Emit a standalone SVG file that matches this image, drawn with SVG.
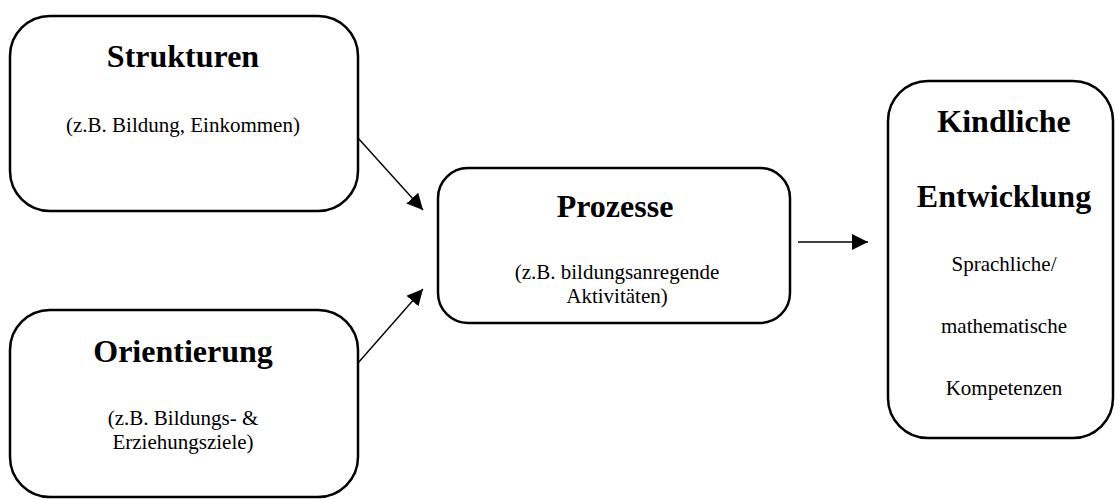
<svg xmlns="http://www.w3.org/2000/svg" width="1115" height="499" viewBox="0 0 1115 499">
<style>
.box{fill:#fff;stroke:#000;stroke-width:2.5}
.t{font-family:"Liberation Serif","Times New Roman",serif;font-weight:bold;font-size:32px;text-anchor:middle;fill:#000}
.s{font-family:"Liberation Serif","Times New Roman",serif;font-size:21px;text-anchor:middle;fill:#000}
.c{stroke:#000;stroke-width:1.4;fill:none}
</style>
<defs>
<marker id="ah" viewBox="0 0 16 16" refX="16" refY="8" markerWidth="16" markerHeight="16" markerUnits="userSpaceOnUse" orient="auto">
<path d="M0,0 L16,8 L0,16 Z" fill="#000"/>
</marker>
</defs>
<rect width="1115" height="499" fill="#fff"/>
<g id="strukturen">
<rect class="box" x="10" y="16" width="348" height="195" rx="40" ry="40"/>
<text class="t" x="183" y="67">Strukturen</text>
<text class="s" x="183" y="132">(z.B. Bildung, Einkommen)</text>
</g>
<g id="orientierung">
<rect class="box" x="10" y="310" width="348" height="187" rx="40" ry="40"/>
<text class="t" x="183" y="362">Orientierung</text>
<text class="s" x="183" y="425">(z.B. Bildungs- &amp;</text>
<text class="s" x="183" y="449">Erziehungsziele)</text>
</g>
<g id="prozesse">
<rect class="box" x="438" y="168" width="352" height="155" rx="30" ry="30"/>
<text class="t" x="615" y="217">Prozesse</text>
<text class="s" x="617" y="279">(z.B. bildungsanregende</text>
<text class="s" x="617" y="303">Aktivitäten)</text>
</g>
<g id="entwicklung">
<rect class="box" x="888" y="81" width="225" height="357" rx="40" ry="40"/>
<text class="t" x="1004" y="132">Kindliche</text>
<text class="t" x="1004" y="207">Entwicklung</text>
<text class="s" x="1004" y="271">Sprachliche/</text>
<text class="s" x="1004" y="333">mathematische</text>
<text class="s" x="1004" y="395">Kompetenzen</text>
</g>
<g id="connectors">
<line class="c" x1="358" y1="138" x2="423" y2="210" marker-end="url(#ah)"/>
<line class="c" x1="358" y1="363" x2="423" y2="289" marker-end="url(#ah)"/>
<line class="c" x1="798" y1="242" x2="868" y2="242" marker-end="url(#ah)"/>
</g>
</svg>
